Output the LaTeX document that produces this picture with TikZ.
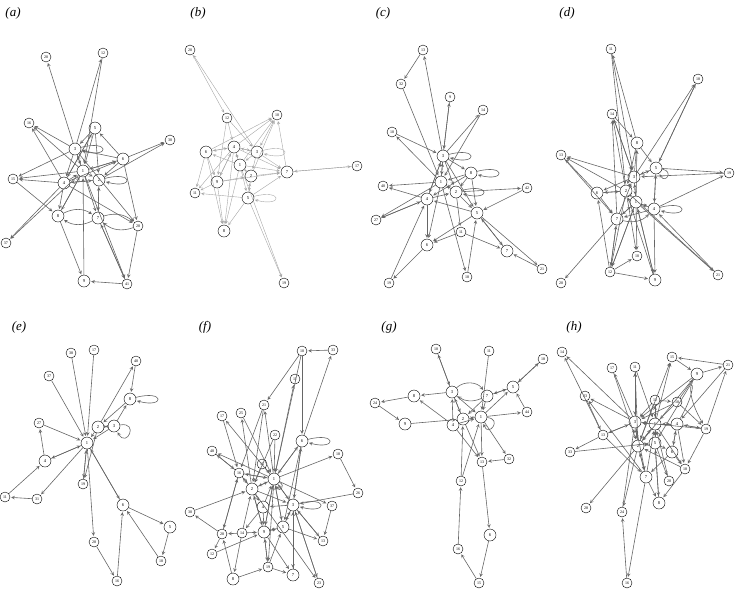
\documentclass[tikz,border=0pt]{standalone}
\usepackage{fontspec}
\setmainfont{Liberation Serif}
\usetikzlibrary{arrows}

\begin{document}
\begin{tikzpicture}[->,>=stealth,shorten >=1pt,x=1pt,y=-1pt,semithick]
  \tikzstyle{every edge}=[draw=black!60]
  \tikzstyle{vtx}=[circle,draw=black,fill=white,thin,inner sep=0pt,minimum size=10pt,font=\fontsize{4}{4}\selectfont]
  \tikzstyle{hub}=[vtx,minimum size=12pt,font=\fontsize{4.5}{5}\selectfont]
  \tikzstyle{faint}=[draw=black!35,thin]
  \tikzstyle{lp}=[min distance=30pt]
  \tikzstyle{panel}=[font=\fontsize{13}{13}\selectfont\itshape]

  \useasboundingbox (0,0) rectangle (735,590);

  % (a)
  \node[panel] (lbl_a) at (13,13) {(a)};
  \node[vtx] (a_20) at (46,57)   {20};
  \node[vtx] (a_12) at (103,53)  {12};
  \node[vtx] (a_16) at (29,123)  {16};
  \node[hub] (a_5)  at (95,128)  {5};
  \node[vtx] (a_30) at (170,140) {30};
  \node[hub] (a_3)  at (75,149)  {3};
  \node[hub] (a_6)  at (123,159) {6};
  \node[hub] (a_1)  at (83,171)  {1};
  \node[hub] (a_2)  at (99,180)  {2};
  \node[vtx] (a_15) at (13,179)  {15};
  \node[hub] (a_4)  at (64,183)  {4};
  \node[hub] (a_8)  at (58,216)  {8};
  \node[hub] (a_7)  at (98,218)  {7};
  \node[vtx] (a_28) at (138,226) {28};
  \node[vtx] (a_37) at (6,243)   {37};
  \node[hub] (a_9)  at (84,281)  {9};
  \node[vtx] (a_41) at (127,284) {41};

  \path (a_3)  edge (a_20) edge (a_12) edge (a_16) edge (a_15) edge (a_28) edge (a_1) edge (a_4) edge [loop right,lp] (a_3);
  \path (a_12) edge (a_1);
  \path (a_1)  edge (a_16) edge (a_3) edge (a_2) edge (a_15) edge (a_8) edge (a_7) edge (a_41) edge (a_37) edge (a_6);
  \path (a_4)  edge (a_16) edge (a_15) edge (a_37) edge (a_8) edge (a_28) edge (a_1) edge (a_2) edge (a_5) edge (a_6);
  \path (a_5)  edge (a_3) edge (a_1) edge (a_4) edge (a_2);
  \path (a_6)  edge (a_5) edge (a_30) edge (a_1) edge (a_2) edge (a_28) edge (a_3);
  \path (a_2)  edge (a_30) edge (a_7) edge (a_4) edge [loop right,lp] (a_2);
  \path (a_15) edge (a_8);
  \path (a_8)  edge (a_9) edge (a_1) edge [bend left] (a_7);
  \path (a_7)  edge [bend left] (a_8) edge (a_41) edge (a_2) edge [bend left] (a_28);
  \path (a_9)  edge (a_1);
  \path (a_41) edge (a_9) edge (a_7);
  \path (a_28) edge (a_41) edge [bend left] (a_7);

  % (b)
  \begin{scope}[every edge/.style={faint}]
  \node[panel] (lbl_b) at (198,13) {(b)};
  \node[vtx] (b_20) at (190,50)  {20};
  \node[vtx] (b_12) at (227,118) {12};
  \node[vtx] (b_10) at (277,115) {10};
  \node[hub] (b_6)  at (206,152) {6};
  \node[hub] (b_4)  at (234,147) {4};
  \node[hub] (b_3)  at (257,152) {3};
  \node[hub] (b_1)  at (240,165) {1};
  \node[hub] (b_2)  at (251,176) {2};
  \node[hub] (b_7)  at (287,172) {7};
  \node[vtx] (b_17) at (357,166) {17};
  \node[hub] (b_9)  at (217,182) {9};
  \node[vtx] (b_11) at (195,193) {11};
  \node[hub] (b_5)  at (248,198) {5};
  \node[hub] (b_8)  at (224,231) {8};
  \node[vtx] (b_19) at (284,283) {19};

  \path (b_20) edge (b_12);
  \path (b_3)  edge (b_20) edge (b_7) edge (b_1) edge (b_4) edge (b_2) edge [loop right,lp] (b_3);
  \path (b_12) edge (b_4) edge (b_3) edge (b_9);
  \path (b_4)  edge (b_10) edge (b_6) edge (b_8) edge (b_11) edge (b_1) edge (b_3) edge (b_9) edge (b_7);
  \path (b_1)  edge (b_10) edge (b_6) edge (b_7) edge (b_19) edge (b_8) edge (b_4) edge (b_2) edge (b_5);
  \path (b_6)  edge (b_10) edge (b_11) edge (b_9) edge (b_8) edge (b_4);
  \path (b_2)  edge (b_10) edge (b_7) edge (b_1) edge (b_5);
  \path (b_7)  edge (b_10) edge (b_17);
  \path (b_10) edge (b_3);
  \path (b_17) edge (b_7);
  \path (b_9)  edge (b_7) edge (b_8) edge (b_11) edge (b_4) edge (b_2);
  \path (b_5)  edge (b_7) edge (b_19) edge (b_8) edge (b_11) edge (b_2) edge [loop right,lp] (b_5);
  \end{scope}

  % (c)
  \node[panel] (lbl_c) at (383,13) {(c)};
  \node[vtx] (c_13) at (423,50)  {13};
  \node[vtx] (c_32) at (401,84)  {32};
  \node[vtx] (c_9)  at (450,97)  {9};
  \node[vtx] (c_14) at (483,110) {14};
  \node[vtx] (c_10) at (392,132) {10};
  \node[hub] (c_3)  at (443,156) {3};
  \node[hub] (c_8)  at (471,173) {8};
  \node[hub] (c_1)  at (441,182) {1};
  \node[vtx] (c_40) at (383,186) {40};
  \node[hub] (c_2)  at (456,192) {2};
  \node[vtx] (c_42) at (527,188) {42};
  \node[hub] (c_4)  at (427,199) {4};
  \node[vtx] (c_27) at (376,220) {27};
  \node[hub] (c_5)  at (477,213) {5};
  \node[vtx] (c_11) at (461,232) {11};
  \node[hub] (c_6)  at (427,245) {6};
  \node[hub] (c_7)  at (507,251) {7};
  \node[vtx] (c_21) at (542,269) {21};
  \node[vtx] (c_19) at (389,283) {19};
  \node[vtx] (c_18) at (467,277) {18};

  \path (c_13) edge (c_32);
  \path (c_3)  edge (c_13) edge (c_9) edge (c_14) edge (c_8) edge (c_5) edge (c_1) edge (c_4) edge (c_2) edge [loop right,lp] (c_3);
  \path (c_32) edge (c_1);
  \path (c_9)  edge (c_3);
  \path (c_14) edge (c_1);
  \path (c_10) edge (c_3);
  \path (c_1)  edge (c_10) edge (c_40) edge (c_27) edge (c_6) edge (c_18) edge (c_3) edge (c_2);
  \path (c_8)  edge (c_5) edge (c_1) edge (c_2) edge (c_4) edge [loop right,lp] (c_8);
  \path (c_4)  edge (c_40) edge (c_27) edge (c_6) edge (c_3) edge (c_2);
  \path (c_2)  edge (c_42) edge (c_1) edge (c_5) edge (c_11) edge [loop right,lp] (c_2);
  \path (c_42) edge (c_5);
  \path (c_27) edge (c_4);
  \path (c_5)  edge (c_4) edge (c_7) edge (c_21) edge (c_6);
  \path (c_7)  edge (c_5);
  \path (c_21) edge (c_7);
  \path (c_11) edge (c_7) edge (c_6);
  \path (c_6)  edge (c_19);
  \path (c_19) edge (c_4);
  \path (c_18) edge (c_5);

  % (d)
  \node[panel] (lbl_d) at (567,13) {(d)};
  \node[vtx] (d_11) at (611,49)  {11};
  \node[vtx] (d_18) at (698,79)  {18};
  \node[vtx] (d_14) at (612,114) {14};
  \node[hub] (d_8)  at (637,143) {8};
  \node[vtx] (d_13) at (561,155) {13};
  \node[hub] (d_5)  at (656,168) {5};
  \node[vtx] (d_19) at (729,173) {19};
  \node[hub] (d_3)  at (634,177) {3};
  \node[hub] (d_6)  at (597,193) {6};
  \node[hub] (d_2)  at (626,191) {2};
  \node[hub] (d_1)  at (636,202) {1};
  \node[hub] (d_4)  at (654,209) {4};
  \node[hub] (d_7)  at (617,219) {7};
  \node[vtx] (d_10) at (637,256) {10};
  \node[vtx] (d_12) at (610,272) {12};
  \node[hub] (d_9)  at (655,280) {9};
  \node[vtx] (d_21) at (718,275) {21};
  \node[vtx] (d_20) at (561,283) {20};

  \path (d_8)  edge (d_11) edge (d_5) edge (d_2);
  \path (d_11) edge (d_3) edge (d_2);
  \path (d_5)  edge (d_18) edge (d_19) edge (d_4) edge (d_3) edge [out=-10,in=-60,looseness=6] (d_5);
  \path (d_18) edge (d_5);
  \path (d_3)  edge (d_18) edge (d_14) edge (d_8) edge (d_13) edge (d_6) edge (d_1) edge (d_5);
  \path (d_14) edge (d_8) edge (d_3);
  \path (d_2)  edge (d_14) edge (d_13) edge (d_6) edge (d_12) edge (d_10) edge (d_21) edge (d_1) edge (d_3);
  \path (d_7)  edge (d_14) edge (d_20) edge (d_12) edge (d_1) edge (d_3) edge [bend right] (d_4);
  \path (d_1)  edge (d_8) edge (d_12) edge (d_10) edge (d_9) edge (d_21) edge (d_3) edge (d_4) edge (d_7);
  \path (d_13) edge (d_7);
  \path (d_6)  edge (d_13) edge (d_7) edge (d_2);
  \path (d_4)  edge (d_19) edge (d_9) edge (d_1) edge (d_5) edge (d_7) edge [loop right,lp] (d_4);
  \path (d_19) edge (d_3);
  \path (d_12) edge (d_7) edge (d_6) edge (d_10) edge (d_9) edge (d_1);
  \path (d_9)  edge (d_1) edge (d_2);
  \path (d_21) edge (d_4);

  % (e)
  \node[panel] (lbl_e) at (19,327) {(e)};
  \node[vtx] (e_38) at (71,353)  {38};
  \node[vtx] (e_17) at (94,350)  {17};
  \node[vtx] (e_40) at (136,361) {40};
  \node[vtx] (e_37) at (49,376)  {37};
  \node[hub] (e_8)  at (130,399) {8};
  \node[vtx] (e_27) at (39,423)  {27};
  \node[hub] (e_2)  at (98,427)  {2};
  \node[hub] (e_3)  at (114,426) {3};
  \node[hub] (e_1)  at (87,443)  {1};
  \node[hub] (e_4)  at (45,461)  {4};
  \node[vtx] (e_19) at (83,484)  {19};
  \node[vtx] (e_11) at (5,497)   {11};
  \node[vtx] (e_31) at (37,499)  {31};
  \node[hub] (e_6)  at (123,505) {6};
  \node[hub] (e_5)  at (170,527) {5};
  \node[vtx] (e_28) at (94,542)  {28};
  \node[vtx] (e_18) at (161,561) {18};
  \node[vtx] (e_16) at (117,581) {16};

  \path (e_38) edge (e_1);
  \path (e_17) edge (e_1);
  \path (e_37) edge (e_1);
  \path (e_2)  edge (e_40) edge (e_3) edge (e_1) edge (e_19);
  \path (e_40) edge (e_8);
  \path (e_8)  edge (e_2) edge [loop right,lp] (e_8);
  \path (e_3)  edge (e_8) edge (e_2) edge (e_1) edge [out=10,in=-60,looseness=7] (e_3);
  \path (e_27) edge (e_1);
  \path (e_4)  edge (e_27) edge (e_1);
  \path (e_1)  edge (e_4) edge (e_31) edge (e_19) edge (e_6) edge (e_28);
  \path (e_31) edge (e_11);
  \path (e_11) edge (e_4);
  \path (e_19) edge (e_1);
  \path (e_6)  edge (e_1) edge (e_5);
  \path (e_28) edge (e_16);
  \path (e_16) edge (e_6);
  \path (e_5)  edge (e_18);
  \path (e_18) edge (e_6);

  % (f)
  \node[panel] (lbl_f) at (205,327) {(f)};
  \node[vtx] (f_10) at (302,351) {10};
  \node[vtx] (f_33) at (333,350) {33};
  \node[vtx] (f_11) at (295,379) {11};
  \node[vtx] (f_21) at (264,405) {21};
  \node[vtx] (f_17) at (222,416) {17};
  \node[vtx] (f_25) at (241,413) {25};
  \node[vtx] (f_22) at (275,435) {22};
  \node[hub] (f_6)  at (302,441) {6};
  \node[vtx] (f_48) at (212,451) {48};
  \node[vtx] (f_18) at (338,454) {18};
  \node[vtx] (f_15) at (262,464) {15};
  \node[vtx] (f_16) at (239,473) {16};
  \node[hub] (f_1)  at (274,479) {1};
  \node[hub] (f_2)  at (252,489) {2};
  \node[vtx] (f_26) at (358,493) {26};
  \node[vtx] (f_37) at (332,506) {37};
  \node[hub] (f_3)  at (293,505) {3};
  \node[hub] (f_4)  at (263,507) {4};
  \node[vtx] (f_30) at (190,512) {30};
  \node[hub] (f_5)  at (283,527) {5};
  \node[vtx] (f_28) at (222,534) {28};
  \node[vtx] (f_14) at (242,533) {14};
  \node[hub] (f_9)  at (264,532) {9};
  \node[vtx] (f_13) at (323,541) {13};
  \node[vtx] (f_12) at (212,554) {12};
  \node[vtx] (f_19) at (268,567) {19};
  \node[hub] (f_8)  at (233,579) {8};
  \node[hub] (f_7)  at (293,575) {7};
  \node[vtx] (f_23) at (319,583) {23};

  \path (f_33) edge (f_10);
  \path (f_10) edge (f_21) edge (f_6) edge (f_1);
  \path (f_1)  edge (f_11) edge (f_21) edge (f_17) edge (f_48) edge (f_6) edge (f_18) edge (f_37) edge (f_16) edge (f_2) edge (f_3) edge (f_9) edge (f_5) edge (f_19) edge [out=-30,in=-70,looseness=5] (f_1);
  \path (f_6)  edge (f_33) edge (f_1) edge (f_3) edge (f_5) edge [loop right,lp] (f_6);
  \path (f_21) edge (f_2) edge (f_16);
  \path (f_2)  edge (f_25) edge (f_16) edge (f_1) edge (f_3) edge (f_4) edge (f_9) edge (f_23);
  \path (f_25) edge (f_1);
  \path (f_17) edge (f_16);
  \path (f_22) edge (f_1) edge (f_2);
  \path (f_48) edge (f_16);
  \path (f_16) edge (f_48) edge (f_1) edge (f_2) edge (f_28);
  \path (f_15) edge (f_1) edge (f_2);
  \path (f_18) edge (f_26);
  \path (f_26) edge (f_3);
  \path (f_37) edge (f_13);
  \path (f_3)  edge (f_6) edge (f_13) edge (f_1) edge (f_4) edge (f_5) edge (f_7) edge (f_23) edge [loop right,lp] (f_3);
  \path (f_13) edge (f_3);
  \path (f_5)  edge (f_13) edge (f_1) edge (f_3) edge (f_9);
  \path (f_4)  edge (f_1) edge (f_14) edge (f_9);
  \path (f_9)  edge (f_2) edge (f_1) edge (f_5) edge (f_19) edge (f_7);
  \path (f_30) edge (f_2);
  \path (f_28) edge (f_30) edge (f_12) edge (f_16);
  \path (f_14) edge (f_28) edge (f_9) edge (f_2) edge (f_8);
  \path (f_12) edge (f_9);
  \path (f_8)  edge (f_28) edge (f_19);
  \path (f_19) edge (f_7) edge (f_9) edge (f_5);
  \path (f_7)  edge (f_3);
  \path (f_23) edge (f_3);

  % (g)
  \node[panel] (lbl_g) at (389,327) {(g)};
  \node[vtx] (g_10) at (436,349) {10};
  \node[vtx] (g_11) at (489,351) {11};
  \node[vtx] (g_18) at (543,359) {18};
  \node[hub] (g_3)  at (452,392) {3};
  \node[hub] (g_5)  at (513,387) {5};
  \node[hub] (g_8)  at (414,396) {8};
  \node[hub] (g_7)  at (487,396) {7};
  \node[vtx] (g_24) at (375,403) {24};
  \node[vtx] (g_44) at (527,412) {44};
  \node[hub] (g_1)  at (481,417) {1};
  \node[hub] (g_2)  at (463,419) {2};
  \node[hub] (g_4)  at (453,425) {4};
  \node[hub] (g_9)  at (405,424) {9};
  \node[vtx] (g_32) at (509,459) {32};
  \node[vtx] (g_13) at (482,462) {13};
  \node[vtx] (g_12) at (461,481) {12};
  \node[hub] (g_6)  at (490,535) {6};
  \node[vtx] (g_16) at (458,549) {16};
  \node[vtx] (g_15) at (479,583) {15};

  \path (g_10) edge (g_3);
  \path (g_3)  edge (g_10) edge (g_8) edge (g_1) edge (g_2) edge [bend left=50] (g_7);
  \path (g_7)  edge (g_5) edge (g_1) edge (g_2) edge [bend left=30] (g_3);
  \path (g_11) edge (g_1);
  \path (g_18) edge (g_5);
  \path (g_5)  edge (g_18) edge (g_7);
  \path (g_1)  edge (g_5) edge (g_44) edge (g_2) edge (g_13) edge (g_32) edge [out=-5,in=-70,looseness=6] (g_1);
  \path (g_44) edge (g_5);
  \path (g_8)  edge (g_24);
  \path (g_24) edge (g_9);
  \path (g_9)  edge (g_2);
  \path (g_4)  edge (g_8) edge (g_3) edge (g_1) edge (g_13);
  \path (g_2)  edge (g_3) edge (g_1) edge (g_13);
  \path (g_32) edge (g_13);
  \path (g_12) edge (g_2) edge (g_1);
  \path (g_13) edge (g_6);
  \path (g_6)  edge (g_15);
  \path (g_15) edge (g_16);
  \path (g_16) edge (g_12);

  % (h)
  \node[panel] (lbl_h) at (574,327) {(h)};
  \node[vtx] (h_14) at (562,352) {14};
  \node[vtx] (h_15) at (672,357) {15};
  \node[vtx] (h_21) at (728,365) {21};
  \node[vtx] (h_17) at (612,368) {17};
  \node[vtx] (h_11) at (635,367) {11};
  \node[hub] (h_9)  at (697,374) {9};
  \node[vtx] (h_23) at (585,396) {23};
  \node[vtx] (h_12) at (655,400) {12};
  \node[vtx] (h_10) at (677,402) {10};
  \node[hub] (h_3)  at (635,422) {3};
  \node[hub] (h_1)  at (655,424) {1};
  \node[hub] (h_4)  at (677,424) {4};
  \node[vtx] (h_19) at (706,429) {19};
  \node[vtx] (h_13) at (603,435) {13};
  \node[hub] (h_2)  at (638,446) {2};
  \node[hub] (h_5)  at (655,443) {5};
  \node[vtx] (h_33) at (570,452) {33};
  \node[hub] (h_6)  at (672,452) {6};
  \node[vtx] (h_18) at (685,469) {18};
  \node[hub] (h_7)  at (646,477) {7};
  \node[vtx] (h_20) at (669,481) {20};
  \node[hub] (h_8)  at (659,503) {8};
  \node[vtx] (h_28) at (586,508) {28};
  \node[vtx] (h_24) at (622,512) {24};
  \node[vtx] (h_16) at (627,583) {16};

  \path (h_3)  edge (h_14) edge (h_17) edge (h_11) edge (h_23) edge (h_13) edge (h_1) edge (h_2) edge (h_7);
  \path (h_13) edge (h_14) edge (h_33) edge (h_3) edge (h_7);
  \path (h_21) edge (h_15) edge (h_4);
  \path (h_15) edge (h_9);
  \path (h_9)  edge (h_21) edge (h_3) edge (h_2) edge (h_5);
  \path (h_19) edge (h_21) edge (h_4) edge (h_3) edge (h_18);
  \path (h_2)  edge (h_15) edge (h_11) edge (h_1) edge (h_3) edge (h_5) edge (h_7) edge (h_28) edge (h_24);
  \path (h_1)  edge (h_15) edge (h_12) edge (h_3) edge (h_4) edge (h_2) edge (h_5) edge (h_18);
  \path (h_17) edge (h_2);
  \path (h_11) edge (h_3) edge (h_1);
  \path (h_23) edge (h_13);
  \path (h_7)  edge (h_23) edge (h_1) edge (h_2) edge (h_8) edge (h_16);
  \path (h_33) edge (h_5);
  \path (h_10) edge (h_9) edge (h_3) edge (h_1) edge (h_19);
  \path (h_12) edge (h_3) edge (h_1) edge (h_10) edge (h_2);
  \path (h_4)  edge (h_19) edge (h_1) edge (h_6) edge (h_18) edge [out=60,in=120,looseness=6] (h_19);
  \path (h_5)  edge (h_1) edge (h_2) edge (h_6) edge (h_20) edge (h_8);
  \path (h_6)  edge (h_4) edge (h_18) edge (h_7);
  \path (h_18) edge (h_2) edge (h_8);
  \path (h_20) edge (h_1);
  \path (h_8)  edge (h_5);
  \path (h_24) edge (h_3);
  \path (h_16) edge (h_24);
\end{tikzpicture}
\end{document}
